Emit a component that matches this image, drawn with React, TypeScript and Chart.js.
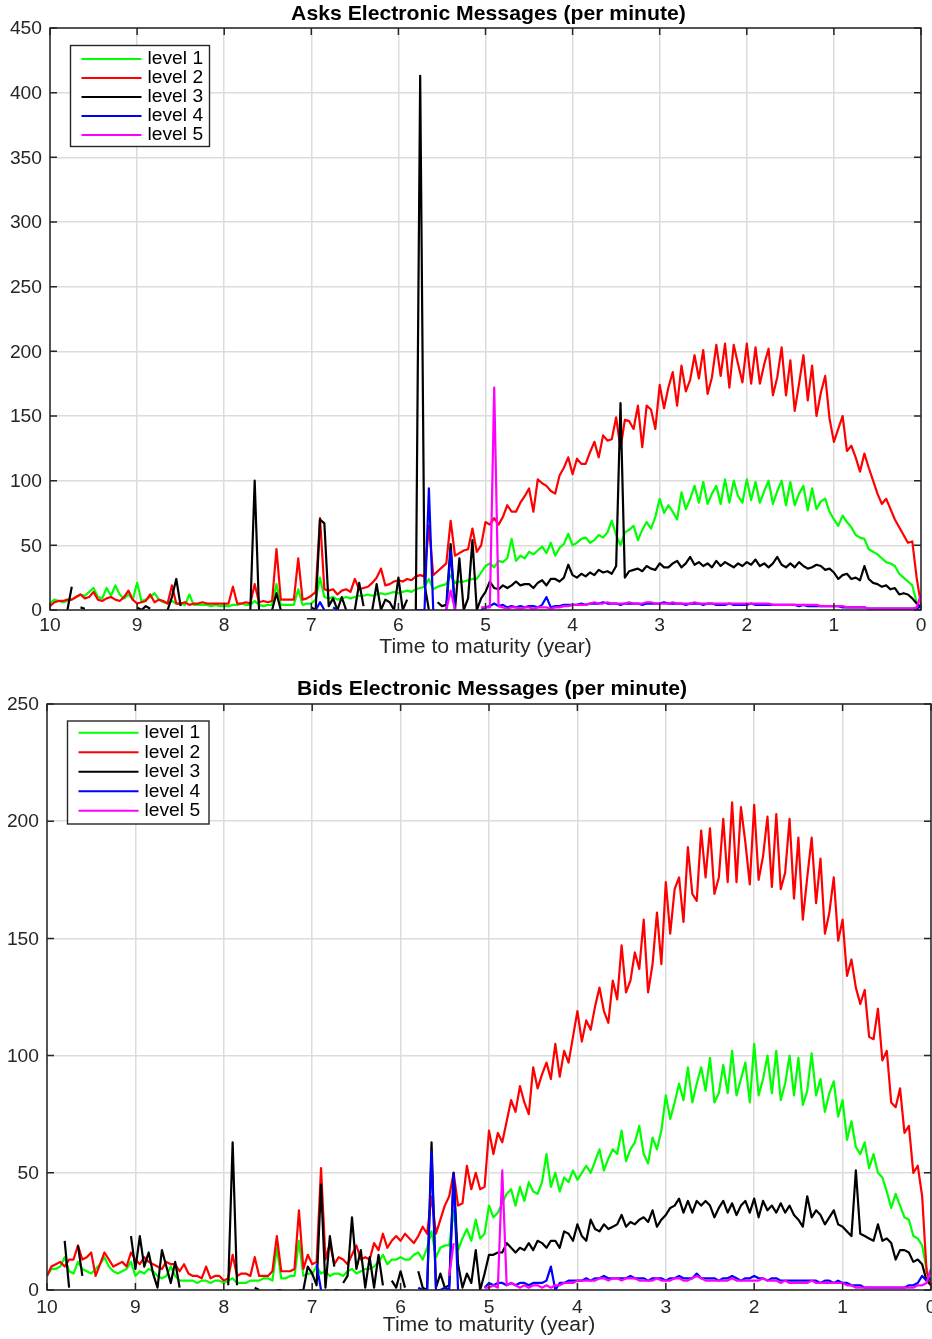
import { useEffect, useRef } from "react";
import { Chart, registerables } from "chart.js";

Chart.register(...registerables);

type Value = number | null;
const _ = null;

// Every series is sampled once each 0.05 year, from 10 years to maturity (201 values).
const FIRST_YEAR = 10;
const YEAR_STEP = 0.05;

const xTickValues = [10, 9, 8, 7, 6, 5, 4, 3, 2, 1, 0];
const asksYTicks = [0, 50, 100, 150, 200, 250, 300, 350, 400, 450];
const bidsYTicks = [0, 50, 100, 150, 200, 250];
const levelLabels = ["level 1", "level 2", "level 3", "level 4", "level 5"];
const levelColors = ["#00ff00", "#ff0000", "#000000", "#0000ff", "#ff00ff"];
const asksTitle = "Asks Electronic Messages (per minute)";
const bidsTitle = "Bids Electronic Messages (per minute)";
const xAxisTitle = "Time to maturity (year)";

// ---------- Asks ----------
const asksLevel1: Value[] = [
  5, 8, 7, 6, 7, 8, 10, 12, 11, 14, 17, 10, 9, 17, 11, 19, 12, 9, 12, 8,
  21, 7, 8, 10, 13, 8, 6, 5, 7, 5, 5, 4, 12, 4, 4, 4, 4, 3, 4, 3,
  3, 3, 4, 4, 5, 4, 4, 7, 4, 3, 4, 4, 20, 4, 4, 4, 4, 16, 4, 5,
  5, 8, 25, 10, 9, 10, 8, 9, 10, 9, 10, 11, 11, 12, 11, 12, 13, 12, 13, 14,
  13, 14, 15, 14, 16, 17, 18, 24, 16, 18, 19, 20, 27, 21, 22, 22, 23, 24, 24, 29,
  34, 36, 33, 38, 37, 40, 55, 38, 42, 40, 45, 43, 46, 49, 44, 52, 42, 48, 51, 59,
  50, 52, 55, 56, 52, 54, 58, 56, 60, 69, 58, 50, 60, 62, 65, 54, 62, 68, 63, 72,
  86, 75, 81, 76, 70, 91, 78, 86, 96, 83, 99, 82, 90, 96, 82, 101, 83, 100, 88, 83,
  101, 85, 99, 83, 92, 100, 82, 92, 100, 81, 99, 81, 90, 96, 77, 94, 78, 84, 86, 76,
  70, 65, 73, 68, 64, 58, 56, 55, 47, 45, 43, 40, 37, 36, 34, 28, 25, 22, 19, 6,
  2,
];

const asksLevel2: Value[] = [
  3, 6, 7, 7, 8, 8, 10, 12, 9, 10, 14, 8, 7, 9, 10, 8, 7, 10, 15, 8,
  5, 6, 7, 12, 6, 8, 7, 5, 19, 5, 5, 6, 4, 5, 5, 6, 5, 5, 5, 5,
  5, 5, 18, 5, 5, 6, 5, 20, 6, 7, 6, 7, 47, 8, 8, 8, 8, 40, 8, 9,
  11, 14, 71, 16, 15, 16, 12, 15, 16, 14, 24, 16, 17, 18, 21, 25, 32, 19, 20, 22,
  23, 22, 24, 23, 26, 27, 26, 65, 27, 30, 33, 36, 69, 42, 44, 46, 47, 63, 45, 50,
  68, 66, 71, 66, 72, 81, 76, 76, 83, 88, 94, 76, 101, 98, 96, 92, 90, 104, 110, 118,
  105, 117, 113, 113, 122, 130, 118, 135, 131, 132, 149, 125, 147, 146, 140, 158, 126, 158, 155, 140,
  174, 156, 172, 184, 158, 189, 169, 178, 197, 179, 201, 167, 180, 205, 181, 206, 172, 205, 190, 176,
  206, 175, 203, 175, 190, 202, 166, 180, 203, 166, 193, 154, 175, 197, 162, 189, 150, 168, 181, 148,
  130, 140, 150, 123, 127, 118, 107, 121, 110, 100, 90, 82, 86, 78, 70, 64, 58, 52, 53, 25,
  4,
];

const asksLevel3: Value[] = [
  _, _, _, _, 0, 18, _, 2, 1, _, _, _, _, _, _, _, _, _, _, _,
  2, 0, 3, 1, _, _, _, 0, 10, 24, 3, _, _, _, _, _, _, _, _, _,
  _, _, _, _, _, _, 0, 100, 0, _, _, 0, 13, 0, _, _, _, _, _, _,
  2, 0, 70, 67, 3, 9, 0, 10, 0, _, 0, 21, 3, _, 0, 20, 0, 8, 6, 0,
  25, 0, 8, _, 0, 413, 20, 0, _, 6, 3, 4, 51, 0, 40, 0, 9, 54, 0, 9,
  14, 22, 17, 16, 19, 17, 19, 22, 19, 20, 20, 17, 21, 23, 19, 24, 24, 22, 25, 35,
  27, 25, 28, 26, 29, 27, 31, 29, 30, 28, 34, 160, 25, 30, 31, 32, 30, 34, 32, 31,
  36, 33, 33, 36, 38, 33, 36, 41, 35, 37, 34, 36, 33, 38, 34, 37, 35, 33, 36, 34,
  37, 35, 39, 34, 36, 33, 36, 41, 35, 33, 36, 33, 37, 34, 32, 33, 35, 34, 31, 32,
  29, 24, 27, 28, 24, 25, 23, 34, 24, 21, 20, 18, 19, 16, 17, 12, 13, 12, 9, 5,
  2,
];

const asksLevel4: Value[] = [
  _, _, _, _, _, _, _, _, _, _, _, _, _, _, _, _, _, _, _, _,
  _, _, _, _, _, _, _, _, _, _, _, _, _, _, _, _, _, _, _, _,
  _, _, _, _, _, _, _, _, _, _, _, _, _, _, _, _, _, _, _, _,
  _, 0, 6, 0, _, 2, 0, _, _, _, _, _, _, _, _, _, _, _, _, _,
  _, _, _, _, 0, 0, 0, 94, 0, _, _, 0, 46, 0, _, _, _, _, _, 0,
  2, 3, 5, 3, 4, 2, 3, 2, 3, 2, 3, 3, 2, 4, 10, 2, 3, 3, 4, 4,
  4, 4, 5, 4, 5, 5, 5, 6, 5, 5, 5, 4, 5, 5, 5, 5, 4, 5, 5, 5,
  5, 6, 5, 5, 5, 5, 4, 5, 5, 5, 4, 5, 5, 4, 4, 4, 5, 4, 4, 4,
  4, 5, 4, 4, 4, 4, 4, 4, 4, 4, 4, 4, 3, 4, 3, 3, 3, 3, 3, 3,
  3, 3, 2, 2, 2, 2, 2, 2, 1, 1, 1, 1, 1, 1, 1, 1, 1, 1, 1, 1,
  3,
];

const asksLevel5: Value[] = [
  _, _, _, _, _, _, _, _, _, _, _, _, _, _, _, _, _, _, _, _,
  _, _, _, _, _, _, _, _, _, _, _, _, _, _, _, _, _, _, _, _,
  _, _, _, _, _, _, _, _, _, _, _, _, _, _, _, _, _, _, _, _,
  _, _, _, _, _, _, _, _, _, _, _, _, _, _, _, _, _, _, _, _,
  _, _, _, _, _, _, _, _, _, _, _, 0, 15, 0, _, _, _, _, _, 2,
  2, 2, 172, 3, 2, 1, 2, 2, 1, 2, 2, 1, 2, 2, 2, 1, 2, 2, 3, 3,
  4, 4, 4, 4, 5, 6, 5, 5, 6, 5, 5, 5, 5, 6, 5, 5, 5, 6, 6, 5,
  5, 5, 5, 6, 5, 5, 5, 5, 6, 5, 5, 5, 5, 5, 5, 5, 5, 5, 5, 5,
  5, 5, 5, 5, 5, 5, 4, 4, 4, 4, 4, 4, 4, 4, 4, 4, 4, 3, 3, 3,
  3, 3, 3, 2, 2, 2, 2, 2, 1, 1, 1, 1, 1, 1, 1, 1, 1, 1, 1, 2,
  12,
];

// ---------- Bids ----------
const bidsLevel1: Value[] = [
  6, 9, 9, 10, 14, 8, 7, 12, 9, 8, 7, 9, 11, 14, 10, 8, 7, 8, 9, 12,
  6, 8, 7, 9, 8, 6, 5, 6, 10, 6, 4, 4, 4, 4, 3, 4, 4, 3, 4, 4,
  3, 4, 5, 3, 3, 3, 4, 4, 4, 5, 5, 4, 18, 5, 5, 6, 6, 21, 6, 7,
  7, 10, 7, 8, 6, 7, 7, 6, 8, 9, 7, 8, 9, 9, 10, 12, 15, 11, 13, 13,
  14, 13, 13, 15, 16, 13, 18, 25, 14, 18, 19, 19, 34, 17, 22, 26, 21, 30, 22, 24,
  36, 31, 33, 37, 41, 43, 36, 44, 38, 46, 42, 41, 46, 58, 44, 50, 42, 48, 46, 51,
  47, 50, 53, 50, 55, 60, 51, 56, 60, 58, 68, 55, 60, 63, 70, 58, 54, 65, 60, 68,
  83, 73, 80, 88, 81, 95, 80, 88, 95, 85, 99, 80, 84, 96, 84, 102, 83, 90, 97, 80,
  105, 83, 90, 100, 84, 102, 81, 88, 100, 83, 99, 79, 85, 101, 83, 90, 76, 84, 89, 74,
  81, 64, 72, 61, 58, 63, 52, 58, 50, 48, 42, 35, 41, 36, 31, 30, 23, 22, 19, 9,
  2,
];

const bidsLevel2: Value[] = [
  6, 10, 11, 12, 10, 13, 13, 19, 13, 14, 16, 6, 11, 16, 13, 10, 11, 12, 10, 16,
  13, 11, 14, 12, 11, 10, 9, 12, 11, 11, 8, 11, 7, 6, 6, 5, 10, 5, 6, 6,
  4, 5, 15, 6, 7, 7, 6, 14, 6, 6, 6, 8, 23, 8, 8, 8, 9, 34, 9, 15,
  11, 12, 52, 13, 20, 11, 14, 13, 11, 15, 19, 13, 14, 13, 20, 17, 24, 18, 21, 23,
  21, 24, 22, 20, 23, 27, 24, 40, 24, 30, 36, 40, 50, 36, 37, 53, 43, 50, 43, 44,
  68, 58, 67, 63, 72, 81, 76, 87, 80, 75, 95, 86, 92, 97, 90, 105, 91, 102, 97, 108,
  119, 106, 115, 111, 121, 129, 119, 114, 132, 124, 147, 127, 132, 144, 137, 158, 127, 139, 161, 139,
  174, 152, 171, 176, 157, 189, 169, 166, 196, 176, 197, 169, 176, 201, 174, 208, 174, 206, 191, 173,
  207, 175, 185, 202, 172, 203, 171, 178, 201, 167, 193, 158, 176, 193, 165, 184, 152, 161, 176, 149,
  158, 134, 141, 129, 122, 128, 108, 107, 120, 98, 102, 80, 78, 86, 67, 70, 50, 53, 40, 8,
  2,
];

const bidsLevel3: Value[] = [
  _, _, _, _, 21, 1, _, 19, 6, _, _, _, _, _, _, _, _, _, _, 23,
  9, 23, 10, 16, 7, 1, 17, 10, 3, 12, 1, _, _, _, _, _, _, _, _, _,
  _, 2, 63, 2, _, _, _, 1, 0, _, _, _, 0, 0, _, _, _, 0, 0, 10,
  7, 2, 45, 1, 23, 10, _, 3, 6, 31, 9, 17, 1, 14, 1, 15, 2, _, 4, 1,
  8, 1, _, _, 8, 1, 0, 63, 1, 7, 1, 2, 50, 11, 1, 7, 3, 17, 0, 7,
  15, 15, 16, 16, 20, 18, 16, 18, 17, 20, 17, 21, 20, 18, 21, 21, 18, 25, 24, 21,
  28, 23, 21, 30, 26, 25, 28, 26, 27, 28, 32, 27, 29, 28, 30, 31, 29, 34, 27, 30,
  32, 35, 36, 39, 33, 38, 33, 38, 36, 38, 36, 31, 35, 38, 33, 37, 32, 36, 38, 33,
  39, 31, 38, 34, 36, 33, 37, 33, 36, 32, 30, 27, 40, 31, 34, 32, 28, 31, 34, 28,
  27, 25, 23, 51, 24, 23, 22, 21, 28, 21, 22, 20, 13, 17, 17, 16, 12, 13, 11, 4,
  2,
];

const bidsLevel4: Value[] = [
  _, _, _, _, _, _, _, _, _, _, _, _, _, _, _, _, _, _, _, _,
  _, _, _, _, _, _, _, _, _, _, _, _, _, _, _, _, _, _, _, _,
  _, _, _, _, _, _, _, _, _, _, _, _, _, _, _, _, _, _, _, _,
  _, 11, 0, _, _, 0, 0, _, _, _, _, _, _, _, _, _, _, _, _, _,
  _, _, _, _, 1, 0, 0, 59, 0, 0, 1, 0, 50, 0, _, _, _, _, _, 1,
  3, 2, 3, 3, 2, 3, 2, 3, 3, 2, 3, 3, 3, 4, 10, 0, 3, 3, 4, 4,
  4, 4, 5, 4, 5, 5, 6, 5, 5, 5, 5, 5, 6, 5, 5, 5, 4, 5, 5, 5,
  4, 5, 5, 6, 5, 5, 5, 7, 5, 5, 5, 5, 4, 5, 5, 6, 5, 4, 5, 5,
  6, 5, 5, 4, 5, 5, 4, 4, 4, 4, 4, 4, 4, 4, 4, 3, 4, 4, 3, 4,
  3, 3, 2, 2, 2, 1, 1, 1, 1, 1, 1, 1, 1, 1, 1, 2, 2, 3, 6, 4,
  5,
];

const bidsLevel5: Value[] = [
  _, _, _, _, _, _, _, _, _, _, _, _, _, _, _, _, _, _, _, _,
  _, _, _, _, _, _, _, _, _, _, _, _, _, _, _, _, _, _, _, _,
  _, _, _, _, _, _, _, _, _, _, _, _, _, _, _, _, _, _, _, _,
  _, _, _, _, _, _, _, _, _, _, _, _, _, _, _, _, _, _, _, _,
  _, _, _, _, _, _, _, _, _, _, _, 6, 20, _, _, _, _, _, _, 1,
  1, 2, 1, 51, 2, 3, 2, 1, 2, 1, 2, 2, 1, 2, 1, 2, 2, 3, 3, 3,
  4, 4, 4, 4, 4, 5, 5, 4, 5, 5, 4, 5, 5, 5, 4, 4, 4, 4, 5, 4,
  4, 4, 5, 5, 4, 4, 5, 6, 5, 4, 4, 4, 4, 4, 4, 5, 4, 4, 4, 4,
  4, 4, 5, 4, 4, 4, 3, 4, 3, 3, 3, 3, 3, 4, 3, 3, 3, 3, 3, 3,
  3, 2, 2, 1, 1, 1, 1, 1, 1, 1, 1, 1, 1, 1, 1, 1, 1, 2, 2, 3,
  9,
];

// ---------- drawing ----------
const CANVAS_W = 932;
const FONT = '"Liberation Sans", Arial, Helvetica, sans-serif';
const TEXT_STRETCH = 1.1;
const AXIS_COLOR = "#262626";
const GRID_COLOR = "#dcdcdc";
const TICK_LEN = 7;
const SERIES_WIDTH = 2.2;

type Area = { left: number; top: number; right: number; bottom: number };
type LegendBox = {
  x: number;
  y: number;
  w: number;
  h: number;
  firstRow: number;
  rowGap: number;
  textDy: number;
};
type PanelSpec = {
  top: number;
  height: number;
  area: Area;
  yMax: number;
  yTicks: number[];
  title: string;
  titleBaseline: number;
  tickBaseline: number;
  xTitleBaseline: number;
  legend: LegendBox;
  series: Value[][];
};

function drawText(
  ctx: CanvasRenderingContext2D,
  text: string,
  x: number,
  y: number,
  align: "left" | "center" | "right",
  font: string,
  color: string
) {
  ctx.save();
  ctx.font = font;
  ctx.fillStyle = color;
  ctx.textAlign = "left";
  ctx.textBaseline = "alphabetic";
  const w = ctx.measureText(text).width * TEXT_STRETCH;
  const left = align === "left" ? x : align === "center" ? x - w / 2 : x - w;
  ctx.translate(left, y);
  ctx.scale(TEXT_STRETCH, 1);
  ctx.fillText(text, 0, 0);
  ctx.restore();
}

function toPoints(values: Value[]) {
  return values.map((y, i) => ({ x: FIRST_YEAR - i * YEAR_STEP, y }));
}

function axesDecorations(spec: PanelSpec) {
  return {
    id: "axesDecorations",
    afterDraw(chart: any) {
      const ctx: CanvasRenderingContext2D = chart.ctx;
      const a = chart.chartArea;
      const xs = chart.scales.x;
      const ys = chart.scales.y;
      ctx.save();

      // axes box and inward ticks on all four sides
      ctx.strokeStyle = AXIS_COLOR;
      ctx.lineWidth = 1.5;
      ctx.strokeRect(a.left, a.top, a.right - a.left, a.bottom - a.top);
      ctx.beginPath();
      for (const v of xTickValues) {
        const px = xs.getPixelForValue(v);
        ctx.moveTo(px, a.bottom);
        ctx.lineTo(px, a.bottom - TICK_LEN);
        ctx.moveTo(px, a.top);
        ctx.lineTo(px, a.top + TICK_LEN);
      }
      for (const v of spec.yTicks) {
        const py = ys.getPixelForValue(v);
        ctx.moveTo(a.left, py);
        ctx.lineTo(a.left + TICK_LEN, py);
        ctx.moveTo(a.right, py);
        ctx.lineTo(a.right - TICK_LEN, py);
      }
      ctx.stroke();

      const tickFont = `17.5px ${FONT}`;
      for (const v of xTickValues) {
        drawText(ctx, String(v), xs.getPixelForValue(v), spec.tickBaseline, "center", tickFont, AXIS_COLOR);
      }
      for (const v of spec.yTicks) {
        drawText(ctx, String(v), a.left - 8, ys.getPixelForValue(v) + 6.2, "right", tickFont, AXIS_COLOR);
      }

      const midX = (a.left + a.right) / 2;
      drawText(ctx, xAxisTitle, midX, spec.xTitleBaseline, "center", `19.3px ${FONT}`, AXIS_COLOR);
      drawText(ctx, spec.title, midX + 3, spec.titleBaseline, "center", `bold 19.3px ${FONT}`, "#000000");

      // legend
      const lg = spec.legend;
      ctx.fillStyle = "#ffffff";
      ctx.fillRect(lg.x, lg.y, lg.w, lg.h);
      ctx.strokeStyle = AXIS_COLOR;
      ctx.lineWidth = 1.4;
      ctx.strokeRect(lg.x, lg.y, lg.w, lg.h);
      levelLabels.forEach((label, k) => {
        const rowY = lg.y + lg.firstRow + k * lg.rowGap;
        ctx.strokeStyle = levelColors[k];
        ctx.lineWidth = 2;
        ctx.beginPath();
        ctx.moveTo(lg.x + 11, rowY);
        ctx.lineTo(lg.x + 71, rowY);
        ctx.stroke();
        drawText(ctx, label, lg.x + 77, rowY + lg.textDy, "left", `17.5px ${FONT}`, "#000000");
      });

      ctx.restore();
    },
  };
}

function Panel({ spec }: { spec: PanelSpec }) {
  const ref = useRef<HTMLCanvasElement | null>(null);

  useEffect(() => {
    if (!ref.current) return;
    const { area } = spec;
    const gridOpts = { color: GRID_COLOR, lineWidth: 1.5, drawTicks: false };
    const chart = new Chart(ref.current, {
      type: "line",
      data: {
        datasets: spec.series.map((values, k) => ({
          label: levelLabels[k],
          data: toPoints(values),
          borderColor: levelColors[k],
          backgroundColor: levelColors[k],
          borderWidth: SERIES_WIDTH,
          borderJoinStyle: "round",
          pointRadius: 0,
          pointHoverRadius: 0,
          tension: 0,
          fill: false,
          spanGaps: false,
          // higher levels are painted over lower ones
          order: levelLabels.length - 1 - k,
        })),
      },
      options: {
        responsive: false,
        animation: false,
        events: [],
        layout: {
          padding: {
            left: area.left,
            top: area.top,
            right: CANVAS_W - area.right,
            bottom: spec.height - area.bottom,
          },
        },
        plugins: {
          legend: { display: false },
          title: { display: false },
          tooltip: { enabled: false },
        },
        scales: {
          x: {
            type: "linear",
            min: 0,
            max: 10,
            reverse: true,
            ticks: { display: false, stepSize: 1 },
            grid: gridOpts,
            border: { display: false },
            afterFit: (s: any) => {
              s.height = 0;
            },
          },
          y: {
            type: "linear",
            min: 0,
            max: spec.yMax,
            ticks: { display: false, stepSize: 50 },
            grid: gridOpts,
            border: { display: false },
            afterFit: (s: any) => {
              s.width = 0;
            },
          },
        },
      } as any,
      plugins: [axesDecorations(spec)],
    });
    return () => chart.destroy();
  }, [spec]);

  return (
    <canvas
      ref={ref}
      width={CANVAS_W}
      height={spec.height}
      style={{ position: "absolute", left: 0, top: spec.top, width: CANVAS_W, height: spec.height }}
    />
  );
}

const asksPanel: PanelSpec = {
  top: 0,
  height: 665,
  area: { left: 50, top: 28, right: 921, bottom: 610 },
  yMax: 450,
  yTicks: asksYTicks,
  title: asksTitle,
  titleBaseline: 20,
  tickBaseline: 631,
  xTitleBaseline: 652.5,
  legend: { x: 70.5, y: 45.5, w: 139, h: 101, firstRow: 13.5, rowGap: 19, textDy: 4.5 },
  series: [asksLevel1, asksLevel2, asksLevel3, asksLevel4, asksLevel5],
};

const bidsPanel: PanelSpec = {
  top: 665,
  height: 674,
  area: { left: 47, top: 39, right: 931, bottom: 625 },
  yMax: 250,
  yTicks: bidsYTicks,
  title: bidsTitle,
  titleBaseline: 30,
  tickBaseline: 648,
  xTitleBaseline: 666,
  legend: { x: 67.5, y: 56, w: 141.5, h: 103, firstRow: 11.7, rowGap: 19.5, textDy: 5.5 },
  series: [bidsLevel1, bidsLevel2, bidsLevel3, bidsLevel4, bidsLevel5],
};

export default function App() {
  return (
    <div
      style={{
        position: "absolute",
        left: 0,
        top: 0,
        width: CANVAS_W,
        height: 1339,
        background: "#ffffff",
        overflow: "hidden",
      }}
    >
      <Panel spec={asksPanel} />
      <Panel spec={bidsPanel} />
    </div>
  );
}
